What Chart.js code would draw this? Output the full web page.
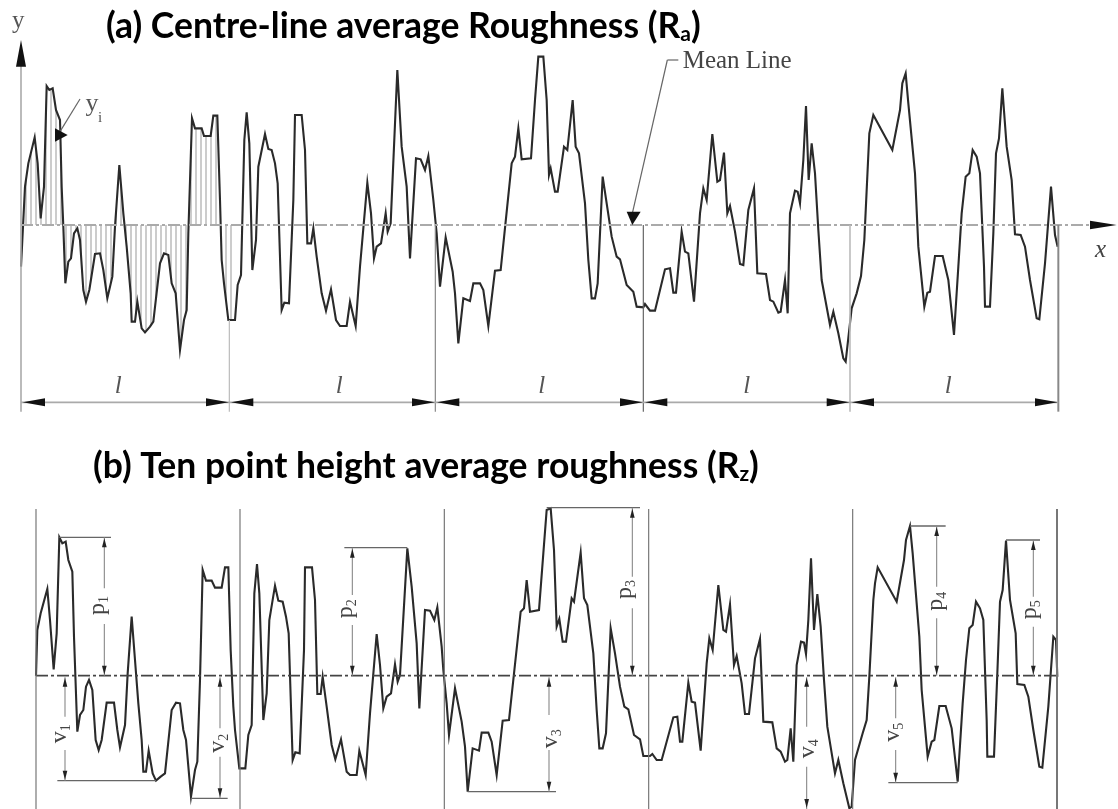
<!DOCTYPE html>
<html>
<head>
<meta charset="utf-8">
<title>Roughness profiles</title>
<script src="https://cdn.jsdelivr.net/npm/chart.js@4/dist/chart.umd.min.js"></script>
<style>
    html, body { margin: 0; padding: 0; background: #fff; }
    canvas { display: block; }
</style>
</head>
<body>
<canvas id="roughnessChart" width="1118" height="809"></canvas>
<script>
// Trace readings: [distance along the trace, height above the mean line]
const profileA = [
    [63,-125],[75,115],[85,185],[104,263],[113,185],[122,20],[132,115],[140,417],[148,405],[158,410],[168,345],[180,315],
    [185,115],[190,-5],[196,-175],[205,-110],[213,-100],[222,-25],[232,-10],[240,-45],[250,-195],[258,-230],[268,-195],
    [285,-87],[300,-85],[310,-135],[322,-220],[337,-155],[345,-5],[358,180],[370,35],[380,-65],[392,-205],[395,-290],
    [405,-290],[412,-230],[425,-310],[435,-322],[450,-305],[460,-290],[480,-115],[492,-85],[505,-90],[515,-175],[527,-205],
    [540,-375],[552,-285],[560,-255],[565,-25],[576,320],[585,290],[605,290],[612,267],[632,267],[640,328],[652,328],
    [660,75],[665,-105],[672,-175],[685,-285],[705,-285],[713,-180],[723,-150],[733,255],[740,338],[748,245],[757,-135],
    [768,-45],[775,175],[795,273],[805,228],[815,225],[825,185],[833,125],[845,-255],[853,-233],[867,-235],[880,75],
    [885,330],[905,330],[915,225],[922,-55],[933,-55],[940,-10],[950,-95],[965,-205],[978,-257],[993,-193],[1008,-285],
    [1020,-303],[1040,-303],[1050,-230],[1067,-303],[1080,-125],[1102,127],[1113,35],[1122,-100],[1130,-65],[1143,-55],
    [1157,35],[1163,-20],[1172,5],[1192,465],[1205,235],[1220,115],[1230,-100],[1248,200],[1262,197],[1275,165],[1285,207],
    [1300,75],[1310,-25],[1320,-185],[1337,-37],[1358,-140],[1365,-205],[1375,-355],[1390,-220],[1410,-228],[1420,-175],
    [1440,-175],[1450,-195],[1465,-303],[1485,-137],[1502,-135],[1535,185],[1545,205],[1555,290],[1565,197],[1593,200],
    [1605,375],[1615,505],[1630,505],[1640,375],[1647,150],[1652,170],[1665,100],[1673,100],[1692,235],[1702,225],[1718,375],
    [1727,235],[1737,215],[1755,65],[1765,-105],[1775,-220],[1785,-220],[1793,-175],[1808,145],[1820,65],[1835,-35],[1850,-95],
    [1860,-103],[1880,-180],[1900,-200],[1910,-245],[1930,-247],[1935,-237],[1950,-257],[1965,-257],[1995,-133],[2010,-130],
    [2020,-203],[2028,-203],[2045,-20],[2055,-80],[2065,-85],[2082,-230],[2100,35],[2110,110],[2120,75],[2137,273],[2152,130],
    [2160,135],[2172,217],[2182,35],[2190,57],[2205,-20],[2220,-117],[2230,-120],[2245,45],[2262,110],[2272,-145],[2298,-147],
    [2310,-225],[2320,-230],[2335,-263],[2342,-260],[2355,-165],[2363,-265],[2370,35],[2385,103],[2393,100],[2400,65],[2410,195],
    [2418,357],[2426,135],[2435,245],[2445,155],[2455,-15],[2465,-165],[2490,-300],[2500,-260],[2515,-325],[2530,-400],[2537,-410],
    [2555,-250],[2570,-205],[2583,-153],[2593,-45],[2608,275],[2620,330],[2677,225],[2700,345],[2707,425],[2717,455],[2725,365],
    [2745,155],[2755,-65],[2773,-245],[2782,-203],[2790,-200],[2805,-93],[2828,-93],[2845,-165],[2862,-330],[2875,-125],[2885,35],
    [2897,145],[2908,155],[2918,225],[2930,205],[2940,155],[2952,-125],[2955,-245],[2970,-245],[2980,-25],[2988,215],[2997,260],
    [3007,410],[3020,235],[3035,135],[3045,-28],[3062,-30],[3075,-65],[3090,-165],[3110,-280],[3118,-283],[3135,-115],[3153,115],
    [3165,-30],[3173,-65]
];

const profileB = [
    [108,0],[112,137],[122,187],[142,260],[150,167],[161,19],[170,127],[178,415],[187,397],[197,402],[205,347],[217,312],[222,117],
    [232,-168],[240,-118],[250,-103],[258,-33],[267,-13],[277,-43],[287,-193],[296,-223],[305,-193],[320,-81],[342,-81],[352,-163],
    [360,-215],[375,-148],[383,7],[395,177],[405,47],[415,-83],[425,-193],[430,-288],[438,-288],[446,-225],[458,-293],[468,-315],
    [482,-303],[495,-293],[515,-103],[528,-81],[540,-83],[550,-163],[558,-193],[573,-363],[585,-283],[592,-258],[600,-13],[608,317],
    [618,285],[635,285],[645,264],[665,264],[675,325],[685,325],[692,77],[700,-93],[705,-163],[718,-278],[736,-278],[745,-178],
    [755,-148],[763,247],[771,335],[778,247],[790,-133],[800,-53],[808,167],[825,270],[835,225],[848,222],[858,177],[866,127],
    [878,-253],[886,-230],[899,-233],[912,77],[915,325],[936,325],[945,227],[952,-55],[962,-55],[968,-3],[980,-93],[995,-208],
    [1006,-251],[1023,-191],[1040,-288],[1050,-298],[1070,-298],[1078,-225],[1097,-298],[1110,-113],[1130,125],[1140,32],[1150,-98],
    [1160,-63],[1173,-53],[1185,34],[1193,-18],[1200,2],[1222,382],[1235,267],[1250,97],[1258,-98],[1275,197],[1290,195],[1303,167],
    [1312,205],[1325,87],[1330,17],[1340,-83],[1347,-178],[1365,-38],[1385,-138],[1395,-213],[1403,-348],[1418,-218],[1437,-225],
    [1445,-171],[1465,-171],[1475,-198],[1490,-298],[1508,-135],[1527,-133],[1562,192],[1572,202],[1580,287],[1590,192],[1617,197],
    [1630,367],[1640,497],[1652,502],[1662,377],[1670,147],[1678,170],[1688,102],[1698,102],[1715,232],[1722,222],[1742,369],[1752,232],
    [1762,212],[1780,67],[1790,-103],[1798,-218],[1808,-218],[1818,-173],[1832,142],[1845,67],[1860,-33],[1873,-93],[1885,-101],
    [1902,-178],[1920,-191],[1930,-241],[1950,-241],[1957,-235],[1970,-253],[1985,-253],[2020,-125],[2032,-123],[2040,-198],[2047,-198],
    [2065,-21],[2075,-78],[2085,-81],[2102,-225],[2120,37],[2128,112],[2138,77],[2155,272],[2170,137],[2178,132],[2190,214],[2202,32],
    [2210,59],[2225,-23],[2235,-115],[2247,-115],[2265,52],[2280,110],[2290,-138],[2317,-140],[2330,-218],[2342,-228],[2355,-258],
    [2362,-253],[2372,-158],[2380,-258],[2390,32],[2403,102],[2412,99],[2418,65],[2425,167],[2433,352],[2442,137],[2452,245],[2462,147],
    [2472,-13],[2482,-153],[2505,-293],[2515,-253],[2530,-323],[2548,-398],[2555,-393],[2565,-253],[2588,-173],[2600,-133],[2608,-3],
    [2620,227],[2625,277],[2633,325],[2690,222],[2712,347],[2718,407],[2730,449],[2738,367],[2758,117],[2765,-43],[2783,-243],[2795,-198],
    [2803,-193],[2818,-91],[2837,-91],[2855,-158],[2873,-318],[2888,-83],[2898,47],[2908,142],[2918,152],[2928,222],[2940,202],[2950,167],
    [2960,-133],[2962,-243],[2982,-243],[2992,7],[3000,222],[3008,257],[3018,405],[3030,227],[3047,127],[3052,-25],[3073,-28],[3085,-63],
    [3100,-163],[3118,-273],[3127,-276],[3145,-93],[3160,117],[3168,107],[3172,-3]
];

// Sampling length boundaries
const boundariesA = [688, 1306, 1930, 2550, 3175];
const boundaryTopsA = [-285, 0, 0, 0, 0];
const boundariesB = [108, 720, 1333, 1946, 2558, 3171];
const samplingLabels = ['l', 'l', 'l', 'l', 'l'];
const samplingLabelX = [355, 1018, 1625, 2240, 2845];

// Peak and valley dimensions of panel (b): line x, reach, extension start and end, gap top and bottom, label x and height
const peakNames = ['p1', 'p2', 'p3', 'p4', 'p5'];
const peakDims = [
    [313, 415, 178, 333, 262, 155, 300, 212],
    [1057, 384, 1033, 1222, 242, 152, 1045, 202],
    [1897, 504, 1640, 1920, 297, 202, 1880, 260],
    [2810, 449, 2730, 2837, 267, 172, 2815, 225],
    [3100, 407, 3018, 3120, 237, 147, 3095, 199]
];
const valleyNames = ['v1', 'v2', 'v3', 'v4', 'v5'];
const valleyDims = [
    [195, -315, 172, 468, -123, -223, 185, -173],
    [660, -368, 573, 683, -158, -243, 660, -201],
    [1647, -348, 1403, 1668, -118, -223, 1660, -188],
    [2420, -400, 2420, 2420, -153, -273, 2430, -218],
    [2687, -321, 2665, 2873, -128, -223, 2685, -168]
];

const titleA = ['(a) Centre-line average Roughness (R', 'a', ')'];
const titleB = ['(b) Ten point height average roughness (R', 'z', ')'];

const TITLE_FONT = "bold 35.5px Lato, 'Noto Sans', sans-serif";
const TITLE_SUB_FONT = "bold 21px Lato, 'Noto Sans', sans-serif";
const SERIF = "'Liberation Serif', 'DejaVu Serif', serif";

function heightAt(profile, x) {
    for (let i = 1; i < profile.length; i++) {
        if (profile[i][0] >= x) {
            const a = profile[i - 1], b = profile[i];
            return a[1] + (b[1] - a[1]) * (x - a[0]) / (b[0] - a[0]);
        }
    }
    return 0;
}

const toPoints = rows => rows.map(r => ({ x: r[0], y: r[1] }));

function drawLine(chart, yId, x1, y1, x2, y2, color, width) {
    const ctx = chart.ctx, sx = chart.scales.x, sy = chart.scales[yId];
    ctx.strokeStyle = color;
    ctx.lineWidth = width;
    ctx.beginPath();
    ctx.moveTo(sx.getPixelForValue(x1), sy.getPixelForValue(y1));
    ctx.lineTo(sx.getPixelForValue(x2), sy.getPixelForValue(y2));
    ctx.stroke();
}

// Triangle with its point at tip and its back at base, half width in value units
function drawArrow(chart, yId, tipX, tipY, baseX, baseY, half, color) {
    const ctx = chart.ctx, sx = chart.scales.x, sy = chart.scales[yId];
    const horizontal = tipY === baseY;
    ctx.fillStyle = color || '#111';
    ctx.beginPath();
    ctx.moveTo(sx.getPixelForValue(tipX), sy.getPixelForValue(tipY));
    if (horizontal) {
        ctx.lineTo(sx.getPixelForValue(baseX), sy.getPixelForValue(baseY + half));
        ctx.lineTo(sx.getPixelForValue(baseX), sy.getPixelForValue(baseY - half));
    } else {
        ctx.lineTo(sx.getPixelForValue(baseX - half), sy.getPixelForValue(baseY));
        ctx.lineTo(sx.getPixelForValue(baseX + half), sy.getPixelForValue(baseY));
    }
    ctx.closePath();
    ctx.fill();
}

function drawText(chart, yId, text, x, y, font, color) {
    const ctx = chart.ctx;
    ctx.font = font;
    ctx.fillStyle = color || '#444';
    ctx.textAlign = 'center';
    ctx.textBaseline = 'middle';
    ctx.fillText(text, chart.scales.x.getPixelForValue(x), chart.scales[yId].getPixelForValue(y));
}

function drawTitle(ctx, parts, x, baseline) {
    ctx.fillStyle = '#000';
    ctx.textAlign = 'left';
    ctx.textBaseline = 'alphabetic';
    ctx.font = TITLE_FONT;
    ctx.fillText(parts[0], x, baseline);
    x += ctx.measureText(parts[0]).width;
    ctx.font = TITLE_SUB_FONT;
    ctx.fillText(parts[1], x, baseline + 3);
    x += ctx.measureText(parts[1]).width;
    ctx.font = TITLE_FONT;
    ctx.fillText(parts[2], x, baseline);
}

// Rotated name with its number set small, as on the dimension lines of panel (b)
function drawDimLabel(chart, name, x, y) {
    const ctx = chart.ctx;
    ctx.save();
    ctx.translate(chart.scales.x.getPixelForValue(x), chart.scales.yB.getPixelForValue(y));
    ctx.rotate(-Math.PI / 2);
    ctx.fillStyle = '#444';
    ctx.textBaseline = 'alphabetic';
    ctx.textAlign = 'left';
    ctx.font = '24px ' + SERIF;
    const w = ctx.measureText(name[0]).width;
    ctx.fillText(name[0], -w + 2, 4);
    ctx.font = '14px ' + SERIF;
    ctx.fillText(name[1], 2, 8);
    ctx.restore();
}

const hatchPlugin = {
    id: 'hatch',
    beforeDatasetsDraw(chart) {
        const ctx = chart.ctx;
        ctx.save();
        ctx.filter = 'blur(0.6px)';
        for (let x = 78; x < 695; x += 15) {
            drawLine(chart, 'yA', x, 0, x, heightAt(profileA, x), '#aaa', 1.2);
        }
    },
    afterDatasetsDraw(chart) {
        chart.ctx.restore();
    }
};

const annotationPlugin = {
    id: 'annotations',
    afterDraw(chart) {
        const ctx = chart.ctx;
        ctx.save();
        ctx.filter = 'blur(0.5px)';

        // Panel (a) axes
        drawLine(chart, 'yA', 63, 480, 63, -560, '#aaa', 1.6);
        drawArrow(chart, 'yA', 63, 555, 63, 475, 15);
        drawArrow(chart, 'yA', 3350, 0, 3270, 0, 13);

        // Panel (a) sampling lengths
        const boundaryColors = ['#bbb', '#888', '#666', '#bbb', '#888'];
        const boundaryWidths = [1.2, 1.2, 1.2, 1.6, 2];
        boundariesA.forEach((x, i) => {
            drawLine(chart, 'yA', x, boundaryTopsA[i], x, -560, boundaryColors[i], boundaryWidths[i]);
        });
        drawLine(chart, 'yA', 63, -532, 3175, -532, '#aaa', 1.6);
        [63].concat(boundariesA.slice(0, 4)).forEach((left, i) => {
            const right = boundariesA[i];
            drawArrow(chart, 'yA', left + 5, -532, left + 72, -532, 12);
            drawArrow(chart, 'yA', right - 2, -532, right - 70, -532, 12);
            drawText(chart, 'yA', samplingLabels[i], samplingLabelX[i], -485, 'italic 25px ' + SERIF, '#555');
        });

        drawText(chart, 'yA', 'y', 55, 612, '25px ' + SERIF, '#555');
        drawText(chart, 'yA', 'x', 3302, -75, 'italic 25px ' + SERIF, '#444');

        // y_i pointer
        drawLine(chart, 'yA', 240, 378, 180, 280, '#666', 1.2);
        const sx = chart.scales.x, sy = chart.scales.yA;
        ctx.fillStyle = '#111';
        ctx.beginPath();
        ctx.moveTo(sx.getPixelForValue(165), sy.getPixelForValue(290));
        ctx.lineTo(sx.getPixelForValue(203), sy.getPixelForValue(270));
        ctx.lineTo(sx.getPixelForValue(165), sy.getPixelForValue(250));
        ctx.closePath();
        ctx.fill();
        drawText(chart, 'yA', 'y', 276, 363, '26px ' + SERIF, '#555');
        drawText(chart, 'yA', 'i', 300, 322, '15px ' + SERIF, '#555');

        // Mean line pointer
        drawLine(chart, 'yA', 2035, 495, 2002, 495, '#666', 1.2);
        drawLine(chart, 'yA', 2002, 495, 1897, 35, '#666', 1.2);
        drawArrow(chart, 'yA', 1897, 0, 1901, 40, 21);
        ctx.font = '25px ' + SERIF;
        ctx.fillStyle = '#444';
        ctx.textAlign = 'left';
        ctx.textBaseline = 'middle';
        ctx.fillText('Mean Line', sx.getPixelForValue(2048), sy.getPixelForValue(490));

        // Panel (b) sampling lengths
        boundariesB.forEach((x, i) => {
            drawLine(chart, 'yB', x, 500, x, -400, '#777', i === 5 ? 2 : 1.2);
        });

        // Panel (b) peak and valley dimensions
        peakDims.forEach((d, i) => {
            drawLine(chart, 'yB', d[2], d[1], d[3], d[1], '#666', 1.4);
            drawLine(chart, 'yB', d[0], d[1], d[0], d[4], '#888', 1.1);
            drawLine(chart, 'yB', d[0], d[5], d[0], 0, '#888', 1.1);
            drawArrow(chart, 'yB', d[0], d[1] - 3, d[0], d[1] - 30, 7, '#222');
            drawArrow(chart, 'yB', d[0], 3, d[0], 30, 7, '#222');
            drawDimLabel(chart, peakNames[i], d[6], d[7]);
        });
        valleyDims.forEach((d, i) => {
            if (d[2] !== d[3]) drawLine(chart, 'yB', d[2], d[1], d[3], d[1], '#666', 1.4);
            drawLine(chart, 'yB', d[0], -5, d[0], d[4], '#888', 1.1);
            drawLine(chart, 'yB', d[0], d[5], d[0], d[1], '#888', 1.1);
            drawArrow(chart, 'yB', d[0], -6, d[0], -33, 7, '#222');
            drawArrow(chart, 'yB', d[0], d[1] + 3, d[0], d[1] + 30, 7, '#222');
            drawDimLabel(chart, valleyNames[i], d[6], d[7]);
        });
        ctx.restore();

        // Headings stay sharp, they sit on top of the scanned drawing
        ctx.save();
        drawTitle(ctx, titleA, 106, 38);
        drawTitle(ctx, titleB, 93, 478);
        ctx.restore();
    }
};

new Chart(document.getElementById('roughnessChart').getContext('2d'), {
    type: 'scatter',
    data: {
        datasets: [
            {
                label: 'Mean line (a)',
                data: [{ x: 63, y: 0 }, { x: 3290, y: 0 }],
                yAxisID: 'yA',
                showLine: true,
                borderColor: '#aaa',
                borderWidth: 1.8,
                borderDash: [12, 3, 3, 3],
                pointRadius: 0
            },
            {
                label: 'Mean line (b)',
                data: [{ x: 108, y: 0 }, { x: 3172, y: 0 }],
                yAxisID: 'yB',
                showLine: true,
                borderColor: '#444',
                borderWidth: 1.8,
                borderDash: [12, 3, 3, 3],
                pointRadius: 0
            },
            {
                label: 'Profile (a)',
                data: toPoints(profileA),
                yAxisID: 'yA',
                showLine: true,
                borderColor: '#2a2a2a',
                borderWidth: 2.1,
                pointRadius: 0,
                tension: 0
            },
            {
                label: 'Profile (b)',
                data: toPoints(profileB),
                yAxisID: 'yB',
                showLine: true,
                borderColor: '#2a2a2a',
                borderWidth: 2.1,
                pointRadius: 0,
                tension: 0
            }
        ]
    },
    options: {
        responsive: false,
        animation: false,
        layout: { padding: 0 },
        plugins: { legend: { display: false }, tooltip: { enabled: false } },
        scales: {
            x: { type: 'linear', display: false, min: 0, max: 3354 },
            yA: { type: 'linear', display: false, min: -1752, max: 675 },
            yB: { type: 'linear', display: false, min: -400, max: 2027 }
        }
    },
    plugins: [hatchPlugin, annotationPlugin]
});
</script>
</body>
</html>
